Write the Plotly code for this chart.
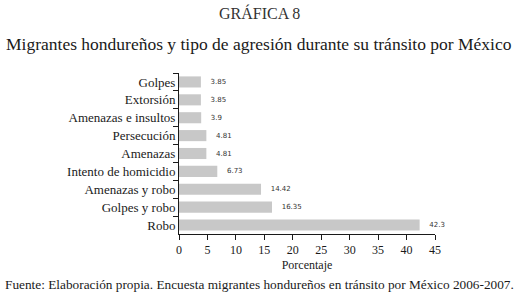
import plotly.graph_objects as go

categories = ["Golpes", "Extorsión", "Amenazas e insultos", "Persecución", "Amenazas",
              "Intento de homicidio", "Amenazas y robo", "Golpes y robo", "Robo"]
values = [3.85, 3.85, 3.9, 4.81, 4.81, 6.73, 14.42, 16.35, 42.3]
value_labels = ["3.85", "3.85", "3.9", "4.81", "4.81", "6.73", "14.42", "16.35", "42.3"]
x_ticks = [0, 5, 10, 15, 20, 25, 30, 35, 40, 45]

SERIF = "Liberation Serif"
W, H = 518, 298
ML, MR, MT, MB = 179, 83, 73, 64
PW, PH = W - ML - MR, H - MT - MB


def px(xpix):
    return (xpix - ML) / PW


def py(ypix):
    return (H - MB - ypix) / PH


fig = go.Figure(go.Bar(
    x=values, y=categories, orientation="h",
    marker=dict(color="#c8c8c8", line=dict(width=0)),
    text=value_labels, texttemplate="   %{text}", textposition="outside", cliponaxis=False,
    textfont=dict(family="DejaVu Sans", size=7, color="#333333"),
))

fig.update_layout(
    width=W, height=H,
    margin=dict(l=ML, r=MR, t=MT, b=MB, autoexpand=False),
    paper_bgcolor="white", plot_bgcolor="white",
    bargap=0.38,
    showlegend=False,
    font=dict(family=SERIF, color="#1a1a1a"),
    xaxis=dict(range=[0, 45], tickvals=x_ticks, showgrid=False, zeroline=False,
               showline=True, linecolor="#1a1a1a", linewidth=1,
               ticks="outside", ticklen=5, tickcolor="#1a1a1a",
               tickfont=dict(family=SERIF, size=12),
               title=dict(text="Porcentaje", font=dict(family=SERIF, size=12), standoff=4)),
    yaxis=dict(autorange="reversed", showgrid=False, zeroline=False,
               showline=True, linecolor="#1a1a1a", linewidth=1,
               ticks="outside", ticklen=5, tickcolor="#1a1a1a", tickson="boundaries",
               tickfont=dict(family=SERIF, size=13)),
)

fig.add_annotation(text="GRÁFICA 8", xref="paper", yref="paper", x=px(259), y=py(13),
                   xanchor="center", yanchor="middle", showarrow=False,
                   font=dict(family=SERIF, size=16, color="#333333"))
fig.add_annotation(text="Migrantes hondureños y tipo de agresión durante su tránsito por México",
                   xref="paper", yref="paper", x=px(259), y=py(44),
                   xanchor="center", yanchor="middle", showarrow=False,
                   font=dict(family=SERIF, size=17.5))
fig.add_annotation(text="Fuente: Elaboración propia. Encuesta migrantes hondureños en tránsito por México 2006-2007.",
                   xref="paper", yref="paper", x=px(3), y=py(284),
                   xanchor="left", yanchor="middle", showarrow=False,
                   font=dict(family=SERIF, size=13.3))

fig.write_html("out.html", config={"displayModeBar": False},
               post_script="document.body.style.margin='0';")
